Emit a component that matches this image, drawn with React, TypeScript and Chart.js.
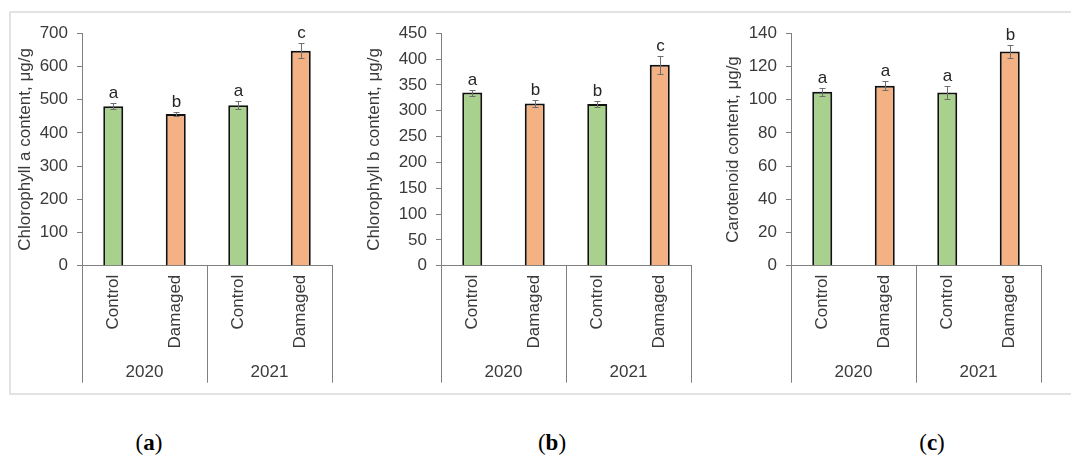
import React, { useEffect, useRef } from 'react';
import { Chart, registerables } from 'chart.js';

Chart.register(...registerables);
Chart.defaults.font.family = '"Liberation Sans", Arial, sans-serif';

const categories = ['Control', 'Damaged', 'Control', 'Damaged'];
const years = ['2020', '2021'];
const barColors = ['#A9D18E', '#F4B183', '#A9D18E', '#F4B183'];

const chlAValues = [480, 457, 483, 647];
const chlAErrors = [9, 7, 12, 22];
const chlALetters = ['a', 'b', 'a', 'c'];

const chlBValues = [335, 314, 313, 389];
const chlBErrors = [6, 6, 5, 17];
const chlBLetters = ['a', 'b', 'b', 'c'];

const carValues = [104.7, 108.3, 104.3, 129];
const carErrors = [2.4, 2.7, 4, 3.8];
const carLetters = ['a', 'a', 'a', 'b'];

const TEXT = '#3a3a3a';
const AXIS = '#808080';

type PanelProps = {
  values: number[];
  errors: number[];
  letters: string[];
  title: string;
  max: number;
  step: number;
  left: number;
  width: number;
  axisWidth: number;
  rightPad: number;
};

function Panel(p: PanelProps) {
  const ref = useRef<HTMLCanvasElement | null>(null);
  useEffect(() => {
    if (!ref.current) return;
    const decor = {
      id: 'decor',
      afterDatasetsDraw(chart: any) {
        const { ctx, scales } = chart;
        const x = scales.x;
        const y = scales.y;
        ctx.save();
        p.values.forEach((v, i) => {
          const px = Math.round(x.getPixelForValue(i)) + 0.5;
          const top = Math.round(y.getPixelForValue(v + p.errors[i])) + 0.5;
          const bot = Math.round(y.getPixelForValue(v - p.errors[i])) + 0.5;
          ctx.strokeStyle = '#6e6e6e';
          ctx.lineWidth = 1;
          ctx.beginPath();
          ctx.moveTo(px, top);
          ctx.lineTo(px, bot);
          ctx.moveTo(px - 3, top);
          ctx.lineTo(px + 3, top);
          ctx.moveTo(px - 3, bot);
          ctx.lineTo(px + 3, bot);
          ctx.stroke();
          ctx.fillStyle = '#262626';
          ctx.font = '17px "Liberation Sans", Arial, sans-serif';
          ctx.textAlign = 'center';
          ctx.textBaseline = 'alphabetic';
          ctx.fillText(p.letters[i], px, top - 6);
        });
        const bottom = chart.chartArea.bottom;
        const seps = [x.left, (x.getPixelForValue(1) + x.getPixelForValue(2)) / 2, x.right];
        ctx.strokeStyle = AXIS;
        ctx.lineWidth = 1;
        seps.forEach((sx) => {
          const xx = Math.round(sx) + 0.5;
          ctx.beginPath();
          ctx.moveTo(xx, bottom);
          ctx.lineTo(xx, bottom + 117);
          ctx.stroke();
        });
        ctx.fillStyle = TEXT;
        ctx.font = '17px "Liberation Sans", Arial, sans-serif';
        ctx.textAlign = 'center';
        ctx.textBaseline = 'middle';
        years.forEach((yr, g) => {
          const cx = (x.getPixelForValue(2 * g) + x.getPixelForValue(2 * g + 1)) / 2;
          ctx.fillText(yr, cx, bottom + 107);
        });
        ctx.restore();
      },
    };
    const chart = new Chart(ref.current, {
      type: 'bar',
      data: {
        labels: categories,
        datasets: [
          {
            data: p.values,
            backgroundColor: barColors,
            borderColor: '#111',
            borderWidth: 2,
            barPercentage: 0.32,
            categoryPercentage: 1,
          },
        ],
      },
      options: {
        responsive: false,
        animation: false,
        layout: { padding: { top: 17, right: p.rightPad, left: 0, bottom: 0 } },
        plugins: { legend: { display: false }, tooltip: { enabled: false } },
        scales: {
          x: {
            type: 'category',
            grid: { display: false, drawTicks: false },
            border: { display: true, color: AXIS, width: 1 },
            ticks: {
              minRotation: 90,
              maxRotation: 90,
              autoSkip: false,
              padding: 9,
              color: TEXT,
              font: { size: 17 },
            },
            afterFit: (s: any) => {
              s.height = 126.3;
            },
          },
          y: {
            min: 0,
            max: p.max,
            ticks: { stepSize: p.step, padding: 9, color: TEXT, font: { size: 17 } },
            grid: { drawOnChartArea: false, drawTicks: true, tickLength: 5, color: AXIS },
            border: { display: true, color: AXIS, width: 1 },
            title: {
              display: true,
              text: p.title,
              color: TEXT,
              font: { size: 17 },
              padding: { top: 5, bottom: 0 },
            },
            afterFit: (s: any) => {
              s.width = p.axisWidth;
            },
          },
        },
      } as any,
      plugins: [decor],
    });
    return () => chart.destroy();
  }, []);
  return (
    <canvas
      ref={ref}
      width={p.width}
      height={378}
      style={{ position: 'absolute', left: p.left, top: 14, width: p.width, height: 378 }}
    />
  );
}

const capStyle: React.CSSProperties = {
  position: 'absolute',
  top: 428,
  width: 60,
  textAlign: 'center',
  fontFamily: '"Liberation Serif", "DejaVu Serif", serif',
  fontSize: 23,
  lineHeight: '30px',
  color: '#000',
};

export default function App() {
  return (
    <div
      style={{
        position: 'absolute',
        left: 0,
        top: 0,
        width: 1071,
        height: 456,
        overflow: 'hidden',
        background: '#fff',
      }}
    >
      <div
        style={{
          position: 'absolute',
          left: 9,
          top: 11,
          width: 1062,
          height: 384,
          borderTop: '2px solid #e2e2e2',
          borderLeft: '2px solid #e2e2e2',
          borderBottom: '2px solid #e2e2e2',
          boxSizing: 'border-box',
        }}
      />
      <Panel
        values={chlAValues}
        errors={chlAErrors}
        letters={chlALetters}
        title="Chlorophyll a content, μg/g"
        max={700}
        step={100}
        left={10}
        width={340}
        axisWidth={72}
        rightPad={18}
      />
      <Panel
        values={chlBValues}
        errors={chlBErrors}
        letters={chlBLetters}
        title="Chlorophyll b content, μg/g"
        max={450}
        step={50}
        left={359}
        width={346}
        axisWidth={82}
        rightPad={14}
      />
      <Panel
        values={carValues}
        errors={carErrors}
        letters={carLetters}
        title="Carotenoid content, μg/g"
        max={140}
        step={20}
        left={718}
        width={342}
        axisWidth={73}
        rightPad={19}
      />
      <div style={{ ...capStyle, left: 119 }}>
        (<b>a</b>)
      </div>
      <div style={{ ...capStyle, left: 522 }}>
        (<b>b</b>)
      </div>
      <div style={{ ...capStyle, left: 902 }}>
        (<b>c</b>)
      </div>
    </div>
  );
}
